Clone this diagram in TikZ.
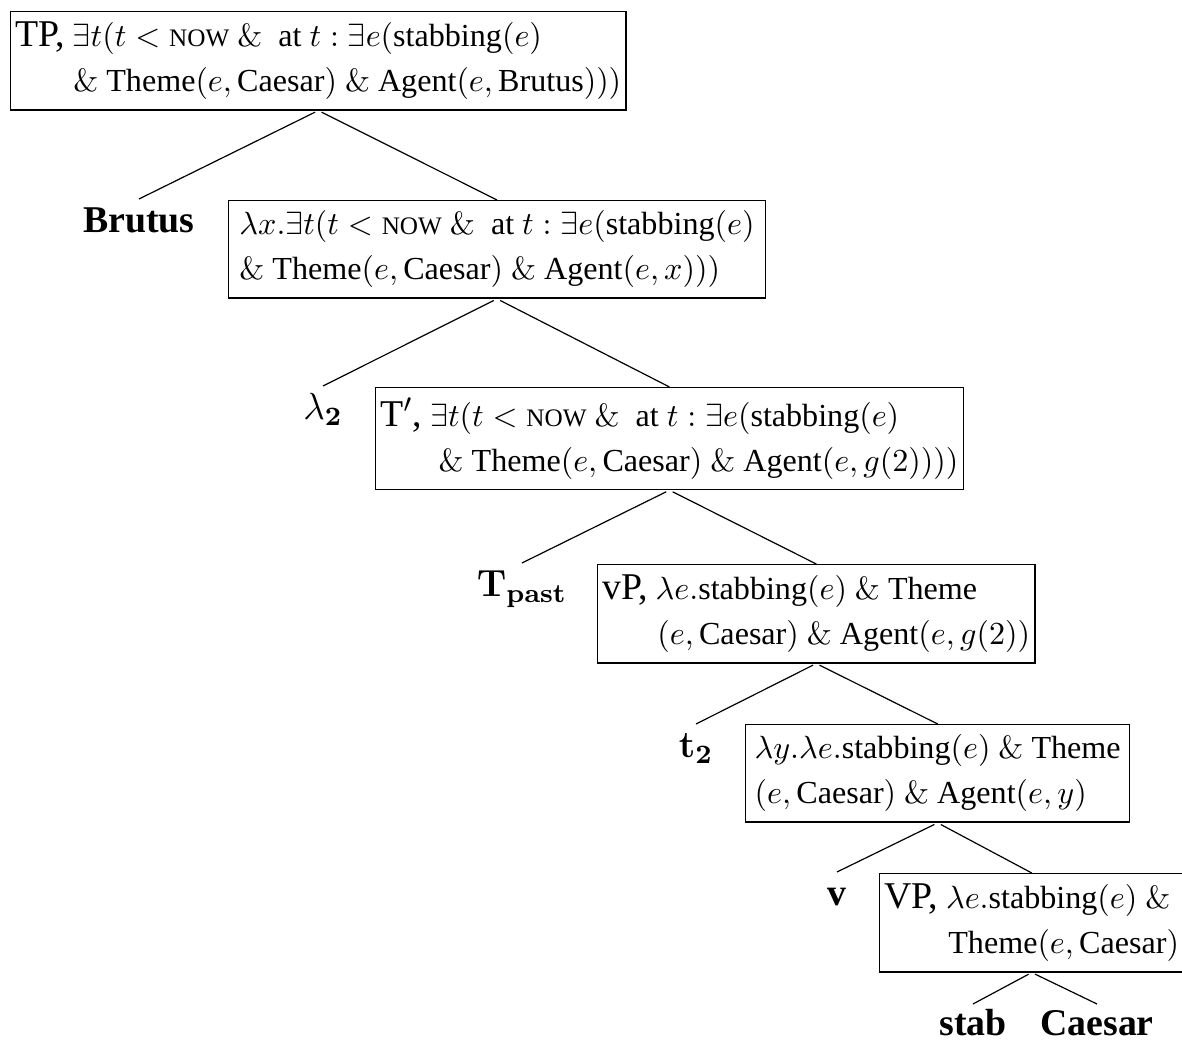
\RequirePackage{fix-cm}
\documentclass[tikz,border=0pt]{standalone}
\usepackage{amsmath}
\usepackage{bm}
\usepackage[no-math]{fontspec}
\setmainfont{Liberation Serif}
\newcommand{\nowsc}{{\fontsize{8.4}{8}\selectfont NOW}}
\newcommand{\catlab}[1]{{\fontsize{12.6}{14}\selectfont #1}}
\begin{document}
\begin{tikzpicture}[x=0.3333pt,y=-0.3333pt,
  box/.style={draw, line width=0.45pt, anchor=north west, align=left,
    inner xsep=1.6pt, inner ysep=3.4pt, font=\fontsize{10.7}{15}\selectfont},
  leaf/.style={anchor=north, inner xsep=1.5pt, inner ysep=0pt, text height=11pt, text depth=3pt,
    font=\fontsize{12.6}{14}\selectfont\bfseries},
  edge/.style={line width=0.4pt, shorten <=1.2pt}]
\useasboundingbox (0,0) rectangle (1182,1040);

\node[box] (n1) at (10,11) {\catlab{TP,} $\exists t(t < \text{\nowsc}\ \&\ \ \text{at}\ t : \exists e(\text{stabbing}(e)$\\
  \hspace*{19.3pt}$\&\ \text{Theme}(e,\text{Caesar})\ \&\ \text{Agent}(e,\text{Brutus})))$};
\node[leaf] (brutus) at (139,199) {Brutus};
\node[box, inner xsep=3.6pt] (n2) at (228,200) {$\lambda x.\exists t(t < \text{\nowsc}\ \&\ \ \text{at}\ t : \exists e(\text{stabbing}(e)$\\
  $\&\ \text{Theme}(e,\text{Caesar})\ \&\ \text{Agent}(e,x)))$};
\node[leaf] (lam) at (323,386) {$\lambda_{\mathbf{2}}$};
\node[box] (n3) at (375,387) {\catlab{T$'$,} $\exists t(t < \text{\nowsc}\ \&\ \ \text{at}\ t : \exists e(\text{stabbing}(e)$\\
  \hspace*{19.4pt}$\&\ \text{Theme}(e,\text{Caesar})\ \&\ \text{Agent}(e,g(2))))$};
\node[leaf] (tpast) at (522,563) {$\mathbf{T_{past}}$};
\node[box] (n4) at (597,564) {\catlab{vP,} $\lambda e.\text{stabbing}(e)\ \&\ \text{Theme}$\\
  \hspace*{18.3pt}$(e,\text{Caesar})\ \&\ \text{Agent}(e,g(2))$};
\node[leaf] (t2) at (696,724) {$\mathbf{t_2}$};
\node[box, inner xsep=3pt] (n5) at (745,724) {$\lambda y.\lambda e.\text{stabbing}(e)\ \&\ \text{Theme}$\\
  $(e,\text{Caesar})\ \&\ \text{Agent}(e,y)$};
\node[leaf] (v) at (837,872) {v};
\node[box] (n6) at (879,873) {\catlab{VP,} $\lambda e.\text{stabbing}(e)\ \&$\\
  \hspace*{21.3pt}$\text{Theme}(e,\text{Caesar})$};
\node[leaf, text height=10.3pt, text depth=0pt] (stab) at (973,1004) {stab};
\node[leaf, text height=10.3pt, text depth=0pt] (caesar) at (1097,1004) {Caesar};

\draw[edge] (n1.south) -- (brutus.north);
\draw[edge] (n1.south) -- (n2.north);
\draw[edge] (n2.south) -- (lam.north);
\draw[edge] (n2.south) -- (n3.north);
\draw[edge] (n3.south) -- (tpast.north);
\draw[edge] (n3.south) -- (n4.north);
\draw[edge] (n4.south) -- (t2.north);
\draw[edge] (n4.south) -- (n5.north);
\draw[edge] (n5.south) -- (v.north);
\draw[edge] (n5.south) -- (n6.north);
\draw[edge] (n6.south) -- (stab.north);
\draw[edge] (n6.south) -- (caesar.north);
\end{tikzpicture}
\end{document}
